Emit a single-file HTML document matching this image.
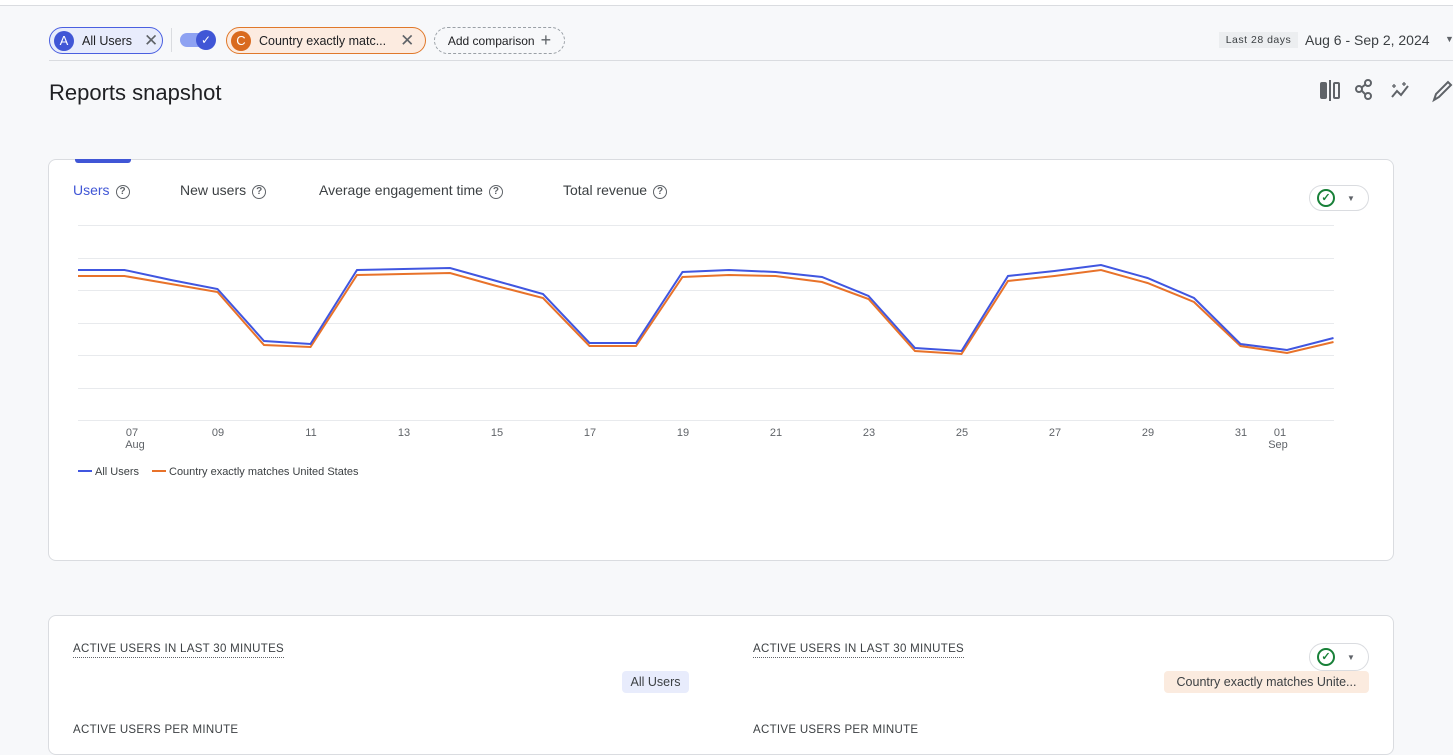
<!DOCTYPE html>
<html><head><meta charset="utf-8"><style>
*{box-sizing:border-box;margin:0;padding:0}
body{width:1453px;height:739px;overflow:hidden;background:#f7f8fa;font-family:"Liberation Sans",sans-serif;color:#202124;position:relative}
.abs{position:absolute}
.chip{position:absolute;height:27px;border-radius:14px;font-size:12.5px;display:flex;align-items:center}
.circ{width:20px;height:20px;border-radius:50%;color:#fff;font-size:13px;display:flex;align-items:center;justify-content:center;margin-left:4px;margin-right:8px}
.card{position:absolute;background:#fff;border:1px solid #dadce0;border-radius:8px}
.tab{position:absolute;top:182px;font-size:14px;color:#3c4043}
.q{display:inline-block;width:14px;height:14px;border:1.5px solid #5f6368;border-radius:50%;font-size:10px;text-align:center;line-height:11px;color:#5f6368;margin-left:6px;vertical-align:1px;font-weight:bold}
.cap{position:absolute;font-size:11.5px;color:#3c4043;letter-spacing:.3px;border-bottom:1px dotted #5f6368;padding-bottom:2px}
</style></head><body>
<div class="abs" style="left:0;top:0;width:1453px;height:6px;background:#fff;border-bottom:1px solid #dadce0"></div>
<div class="chip" style="left:49px;top:27px;width:114px;background:#e8ecfc;border:1px solid #4a5fe0"><div class="circ" style="background:#4056d6">A</div>All Users<span style="margin-left:12px;color:#5f6368;font-size:17px">✕</span></div>
<div class="abs" style="left:171px;top:28px;width:1px;height:24px;background:#dadce0"></div>
<div class="abs" style="left:180px;top:33px;width:34px;height:14px;border-radius:7px;background:#8ea2f2"></div>
<div class="abs" style="left:196px;top:30px;width:20px;height:20px;border-radius:50%;background:#4056d6;color:#fff;font-size:12px;text-align:center;line-height:20px">✓</div>
<div class="chip" style="left:226px;top:27px;width:200px;background:#fcebe0;border:1px solid #e0782a"><div class="circ" style="background:#d96a1e">C</div>Country exactly matc...<span style="margin-left:14px;color:#5f6368;font-size:17px">✕</span></div>
<div class="chip" style="left:434px;top:27px;width:131px;border:1px dashed #9aa0a6;justify-content:center;font-size:12px">Add comparison <span style="font-size:18px;margin-left:6px;color:#5f6368">+</span></div>
<div class="abs" style="left:1219px;top:32px;width:79px;height:16px;background:#eceef0;font-size:10.5px;color:#3c4043;text-align:center;line-height:16px;letter-spacing:.5px">Last 28 days</div>
<div class="abs" style="left:1305px;top:32px;font-size:14px;color:#3c4043">Aug 6 - Sep 2, 2024</div>
<div class="abs" style="left:1445px;top:34px;font-size:9px;color:#5f6368">▼</div>
<div class="abs" style="left:49px;top:60px;width:1404px;height:1px;background:#dadce0"></div>
<div class="abs" style="left:49px;top:80px;font-size:22px;color:#202124">Reports snapshot</div>
<div class="abs" style="left:1320px;top:82px;width:7px;height:17px;background:#5f6368;border-radius:2px"></div>
<div class="abs" style="left:1329px;top:80px;width:2px;height:21px;background:#5f6368"></div>
<div class="abs" style="left:1333px;top:82px;width:7px;height:17px;border:2px solid #5f6368;border-radius:2px"></div>
<svg class="abs" style="left:1354px;top:78px" width="100" height="26" fill="none" stroke="#5f6368" stroke-width="2"><circle cx="14" cy="5" r="3"/><circle cx="5" cy="11" r="3"/><circle cx="14" cy="18" r="3"/><path d="M7 10 12 6M7 12 12 17"/><path d="M38 19 43 13 47 17 54 8" /><path d="M40 6v4M38 8h4M50 4v4M48 6h4" stroke-width="1.3"/><path d="M80 22 82 16 94 4 97 7 85 19Z"/></svg>

<div class="card" style="left:48px;top:159px;width:1346px;height:402px"></div>
<div class="abs" style="left:75px;top:159px;width:56px;height:4px;background:#4056d6;border-radius:0 0 3px 3px"></div>
<div class="tab" style="left:73px;color:#4056d6">Users<span class="q">?</span></div>
<div class="tab" style="left:180px">New users<span class="q">?</span></div>
<div class="tab" style="left:319px">Average engagement time<span class="q">?</span></div>
<div class="tab" style="left:563px">Total revenue<span class="q">?</span></div>
<div class="abs" style="left:1309px;top:185px;width:60px;height:26px;border:1px solid #dadce0;border-radius:13px;background:#fff"></div>
<div class="abs" style="left:1317px;top:189px;width:18px;height:18px;border:2px solid #188038;border-radius:50%;color:#188038;font-size:11px;text-align:center;line-height:14px;font-weight:bold">✓</div>
<div class="abs" style="left:1347px;top:194px;font-size:8px;color:#5f6368">▼</div>

<svg class="abs" style="left:0;top:0" width="1453" height="500" font-family="Liberation Sans, sans-serif">
<g stroke="#e8eaed" stroke-width="1">
<line x1="78" x2="1334" y1="225.5" y2="225.5"/><line x1="78" x2="1334" y1="258.5" y2="258.5"/><line x1="78" x2="1334" y1="290.5" y2="290.5"/><line x1="78" x2="1334" y1="323.5" y2="323.5"/><line x1="78" x2="1334" y1="355.5" y2="355.5"/><line x1="78" x2="1334" y1="388.5" y2="388.5"/><line x1="78" x2="1334" y1="420.5" y2="420.5"/>
</g>
<g fill="#5f6368" font-size="11" text-anchor="middle">
<text x="132" y="436">07</text><text x="135" y="448">Aug</text><text x="218" y="436">09</text><text x="311" y="436">11</text><text x="404" y="436">13</text><text x="497" y="436">15</text><text x="590" y="436">17</text><text x="683" y="436">19</text><text x="776" y="436">21</text><text x="869" y="436">23</text><text x="962" y="436">25</text><text x="1055" y="436">27</text><text x="1148" y="436">29</text><text x="1241" y="436">31</text><text x="1280" y="436">01</text><text x="1278" y="448">Sep</text>
</g>
<polyline fill="none" stroke="#e8722a" stroke-width="2" points="78,276 124.5,276 171,284 217.5,292 264,345 310.5,347 357,275 403.5,274 450,273 496.5,286 543,298 589.5,346 636,346 682.5,277 729,275 775.5,276 822,282 868.5,299 915,351 961.5,354 1008,281 1054.5,276 1101,270 1147.5,283 1194,302 1240.5,346 1287,353 1333.5,342"/>
<polyline fill="none" stroke="#4056e0" stroke-width="2" points="78,270 124.5,270 171,280 217.5,289 264,341 310.5,344 357,270 403.5,269 450,268 496.5,281 543,294 589.5,343 636,343 682.5,272 729,270 775.5,272 822,277 868.5,296 915,348 961.5,351 1008,276 1054.5,271 1101,265 1147.5,278 1194,298 1240.5,344 1287,350 1333.5,338"/>
<line x1="78" x2="92" y1="471" y2="471" stroke="#4056e0" stroke-width="2"/>
<text x="95" y="475" font-size="11" fill="#3c4043">All Users</text>
<line x1="152" x2="166" y1="471" y2="471" stroke="#e8722a" stroke-width="2"/>
<text x="169" y="475" font-size="11" fill="#3c4043">Country exactly matches United States</text>
</svg>

<div class="card" style="left:48px;top:615px;width:1346px;height:140px"></div>
<div class="cap" style="left:73px;top:643px">ACTIVE USERS IN LAST 30 MINUTES</div>
<div class="cap" style="left:753px;top:643px">ACTIVE USERS IN LAST 30 MINUTES</div>
<div class="abs" style="left:622px;top:671px;width:67px;height:22px;background:#e8ecfc;border-radius:4px;font-size:12.5px;text-align:center;line-height:22px;color:#3c4043">All Users</div>
<div class="abs" style="left:1164px;top:671px;width:205px;height:22px;background:#fbebdf;border-radius:4px;font-size:12.5px;text-align:center;line-height:22px;color:#3c4043">Country exactly matches Unite...</div>
<div class="abs" style="left:1309px;top:643px;width:60px;height:28px;border:1px solid #dadce0;border-radius:14px;background:#fff"></div>
<div class="abs" style="left:1317px;top:648px;width:18px;height:18px;border:2px solid #188038;border-radius:50%;color:#188038;font-size:11px;text-align:center;line-height:14px;font-weight:bold">✓</div>
<div class="abs" style="left:1347px;top:653px;font-size:8px;color:#5f6368">▼</div>
<div class="abs" style="left:73px;top:724px;font-size:11.5px;color:#3c4043;letter-spacing:.3px">ACTIVE USERS PER MINUTE</div>
<div class="abs" style="left:753px;top:724px;font-size:11.5px;color:#3c4043;letter-spacing:.3px">ACTIVE USERS PER MINUTE</div>
</body></html>
